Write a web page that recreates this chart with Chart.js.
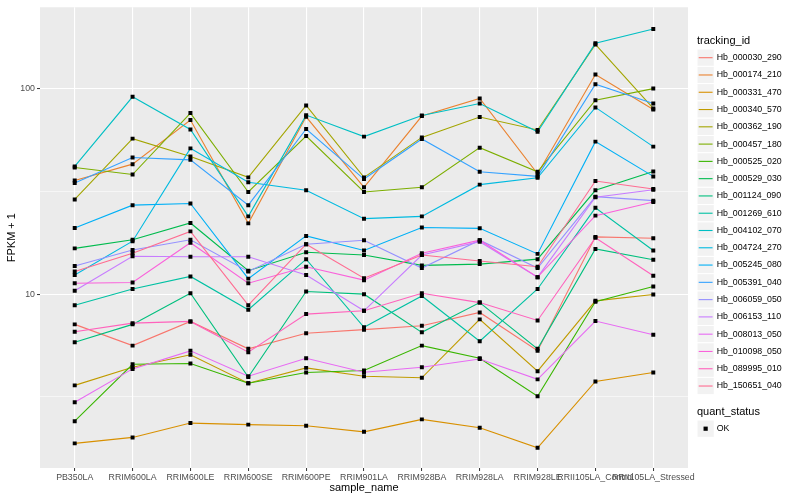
<!DOCTYPE html>
<html>
<head>
<meta charset="utf-8">
<script src="https://cdn.jsdelivr.net/npm/chart.js@4"></script>
<style>
html,body{margin:0;padding:0;background:#ffffff;}
canvas{display:block;}
</style>
</head>
<body>
<canvas id="c" width="800" height="500"></canvas>
<script>
// ---- data ----
const categories = ["PB350LA","RRIM600LA","RRIM600LE","RRIM600SE","RRIM600PE","RRIM901LA","RRIM928BA","RRIM928LA","RRIM928LE","RRII105LA_Control","RRII105LA_Stressed"];
const seriesIds = ["Hb_000030_290","Hb_000174_210","Hb_000331_470","Hb_000340_570","Hb_000362_190","Hb_000457_180","Hb_000525_020","Hb_000529_030","Hb_001124_090","Hb_001269_610","Hb_004102_070","Hb_004724_270","Hb_005245_080","Hb_005391_040","Hb_006059_050","Hb_006153_110","Hb_008013_050","Hb_010098_050","Hb_089995_010","Hb_150651_040"];

const Hb_000030_290 = [7.13, 5.62, 7.37, 5.42, 6.45, 6.72, 7.02, 8.15, 5.31, 19.0, 18.7];
const Hb_000174_210 = [35.7, 42.9, 70.3, 22.1, 72.9, 33.1, 73.5, 89.5, 38.5, 117, 79.1];
const Hb_000331_470 = [1.88, 2.01, 2.36, 2.32, 2.29, 2.14, 2.46, 2.24, 1.79, 3.76, 4.16];
const Hb_000340_570 = [3.60, 4.41, 5.07, 3.69, 4.38, 3.99, 3.92, 7.54, 4.22, 9.28, 9.96];
const Hb_000362_190 = [28.9, 57.1, 46.7, 37.0, 82.8, 37.0, 57.9, 72.7, 62.9, 164, 80.1];
const Hb_000457_180 = [41.3, 38.2, 76.0, 31.4, 58.8, 31.4, 33.1, 51.6, 39.4, 87.8, 100];
const Hb_000525_020 = [2.41, 4.56, 4.60, 3.69, 4.16, 4.25, 5.62, 4.88, 3.19, 9.18, 10.9];
const Hb_000529_030 = [16.7, 18.4, 22.2, 13.0, 16.0, 15.5, 13.8, 14.0, 14.8, 32.0, 39.5];
const Hb_001124_090 = [5.83, 7.13, 10.1, 3.95, 10.3, 10.0, 6.52, 9.1, 5.42, 16.6, 14.7];
const Hb_001269_610 = [8.84, 10.6, 12.2, 8.4, 14.8, 6.9, 9.8, 5.9, 10.6, 26.3, 16.3];
const Hb_004102_070 = [41.8, 91.2, 63.3, 23.9, 74.3, 58.4, 74.0, 84.6, 61.7, 166, 195];
const Hb_004724_270 = [12.4, 18.1, 51.2, 35.0, 32.0, 23.3, 23.9, 34.1, 36.8, 81.0, 52.2];
const Hb_005245_080 = [21.0, 27.1, 27.6, 11.9, 19.2, 16.3, 21.1, 20.9, 15.7, 55.2, 37.4];
const Hb_005391_040 = [34.7, 46.2, 45.0, 27.1, 63.6, 36.3, 56.9, 39.4, 37.4, 105, 84.6];
const Hb_006059_050 = [13.7, 16.4, 18.4, 12.9, 17.5, 18.3, 13.4, 18.3, 13.4, 29.8, 28.5];
const Hb_006153_110 = [10.4, 15.3, 15.2, 15.2, 12.4, 8.3, 15.5, 18.0, 12.1, 29.6, 32.2];
const Hb_008013_050 = [2.98, 4.33, 5.30, 3.99, 4.88, 4.17, 4.41, 4.84, 3.85, 7.40, 6.35];
const Hb_010098_050 = [11.3, 11.4, 17.8, 11.3, 13.6, 11.7, 15.8, 18.3, 12.1, 24.1, 28.1];
const Hb_089995_010 = [6.57, 7.23, 7.37, 5.22, 8.0, 8.3, 10.1, 9.1, 7.45, 18.8, 12.3];
const Hb_150651_040 = [12.9, 15.8, 20.2, 8.84, 17.5, 11.95, 15.5, 14.5, 13.6, 35.5, 32.5];

const seriesValues = [Hb_000030_290, Hb_000174_210, Hb_000331_470, Hb_000340_570, Hb_000362_190, Hb_000457_180, Hb_000525_020, Hb_000529_030, Hb_001124_090, Hb_001269_610, Hb_004102_070, Hb_004724_270, Hb_005245_080, Hb_005391_040, Hb_006059_050, Hb_006153_110, Hb_008013_050, Hb_010098_050, Hb_089995_010, Hb_150651_040];

const yMajorTicks = [10, 100];
const yMinorTicks = [3.162, 31.62];
const quantStatus = ["OK"];

// ---- styles ----
const palette = ["#F8766D","#EA8331","#D89000","#C09B00","#A3A500","#7CAE00","#39B600","#00BB4E","#00BF7D","#00C1A3","#00BFC4","#00BAE0","#00B0F6","#35A2FF","#9590FF","#C77CFF","#E76BF3","#FA62DB","#FF62BC","#FF6C91"];
const FONT = '"Liberation Sans", Arial, Helvetica, sans-serif';

const lineSets = seriesValues.map((vals, i) => ({
  type: 'line',
  label: seriesIds[i],
  data: vals.map((v, j) => ({x: j, y: v})),
  borderColor: palette[i],
  backgroundColor: palette[i],
  borderWidth: 1.1,
  pointRadius: 0,
  tension: 0,
  fill: false,
  order: 100 - i
}));
const pointSets = seriesValues.map((vals, i) => ({
  type: 'line',
  label: seriesIds[i] + '_pts',
  data: vals.map((v, j) => ({x: j, y: v})),
  showLine: false,
  pointStyle: 'rect',
  pointRadius: 2.8,
  pointBackgroundColor: '#000000',
  pointBorderColor: '#000000',
  pointBorderWidth: 0,
  order: 0
}));

const bgPlugin = {
  id: 'ggBg',
  beforeDraw(chart) {
    const {ctx, chartArea: a} = chart;
    ctx.save();
    ctx.fillStyle = '#FFFFFF';
    ctx.fillRect(0, 0, chart.width, chart.height);
    ctx.fillStyle = '#EBEBEB';
    ctx.fillRect(a.left, a.top, a.right - a.left, a.bottom - a.top);
    ctx.restore();
  }
};

const legendPlugin = {
  id: 'ggLegend',
  afterDraw(chart) {
    const ctx = chart.ctx;
    ctx.save();
    const x0 = 697, kw = 17.28, kh = 17.28, step = 17.28;
    ctx.textAlign = 'left';
    ctx.textBaseline = 'middle';
    ctx.fillStyle = '#000';
    ctx.font = '11px ' + FONT;
    ctx.fillText('tracking_id', x0, 40.7);
    seriesIds.forEach((id, i) => {
      const cy = 57.7 + i * step;
      ctx.fillStyle = '#F2F2F2';
      ctx.fillRect(x0, cy - kh / 2, kw, kh);
      ctx.strokeStyle = '#FFFFFF';
      ctx.lineWidth = 1;
      ctx.strokeRect(x0, cy - kh / 2, kw, kh);
      ctx.strokeStyle = palette[i];
      ctx.lineWidth = 1.1;
      ctx.beginPath();
      ctx.moveTo(x0 + 1.7, cy);
      ctx.lineTo(x0 + kw - 1.7, cy);
      ctx.stroke();
      ctx.fillStyle = '#000';
      ctx.font = '8.8px ' + FONT;
      ctx.fillText(id, 716.7, cy);
    });
    ctx.font = '11px ' + FONT;
    ctx.fillStyle = '#000';
    ctx.fillText('quant_status', x0, 411.7);
    quantStatus.forEach((s, i) => {
      const cy = 428.7 + i * step;
      ctx.fillStyle = '#F2F2F2';
      ctx.fillRect(x0, cy - kh / 2, kw, kh);
      ctx.strokeStyle = '#FFFFFF';
      ctx.lineWidth = 1;
      ctx.strokeRect(x0, cy - kh / 2, kw, kh);
      ctx.fillStyle = '#000';
      ctx.fillRect(x0 + kw / 2 - 2.1, cy - 2.1, 4.2, 4.2);
      ctx.font = '8.8px ' + FONT;
      ctx.fillText(s, 716.7, cy);
    });
    ctx.restore();
  }
};

const isMajor = v => yMajorTicks.includes(v);

new Chart(document.getElementById('c'), {
  type: 'line',
  data: { datasets: [...lineSets, ...pointSets] },
  plugins: [bgPlugin, legendPlugin],
  options: {
    responsive: false,
    animation: false,
    events: [],
    layout: { padding: { left: 0, right: 112, top: 5, bottom: 0 } },
    plugins: { legend: { display: false }, tooltip: { enabled: false } },
    scales: {
      x: {
        type: 'linear',
        min: -0.6,
        max: 10.6,
        afterBuildTicks: s => { s.ticks = categories.map((c, i) => ({ value: i })); },
        afterFit: s => { s.height = 32; },
        ticks: {
          autoSkip: false, maxRotation: 0, minRotation: 0, padding: 1,
          color: '#4D4D4D', font: { size: 8.8, family: FONT },
          callback: v => categories[v]
        },
        grid: { color: '#FFFFFF', lineWidth: 1.1, tickColor: '#333333', tickLength: 3, tickWidth: 1 },
        border: { display: false },
        title: { display: true, text: 'sample_name', color: '#000', font: { size: 11, family: FONT }, padding: { top: 0, bottom: 5.4 } }
      },
      y: {
        type: 'logarithmic',
        min: 1.427,
        max: 248.6,
        afterBuildTicks: s => { s.ticks = [...yMinorTicks, ...yMajorTicks].sort((a, b) => a - b).map(v => ({ value: v })); },
        afterFit: s => { s.width = 40; },
        ticks: {
          autoSkip: false, padding: 2,
          color: '#4D4D4D', font: { size: 8.8, family: FONT },
          callback: v => isMajor(v) ? String(v) : ''
        },
        grid: {
          color: '#FFFFFF',
          lineWidth: c => (c.tick && isMajor(c.tick.value)) ? 1.1 : 0.55,
          tickColor: c => (c.tick && isMajor(c.tick.value)) ? '#333333' : 'rgba(0,0,0,0)',
          tickLength: 3, tickWidth: 1
        },
        border: { display: false },
        title: { display: true, text: 'FPKM + 1', color: '#000', font: { size: 11, family: FONT }, padding: { top: 5.4, bottom: 0 } }
      }
    }
  }
});
</script>
</body>
</html>
